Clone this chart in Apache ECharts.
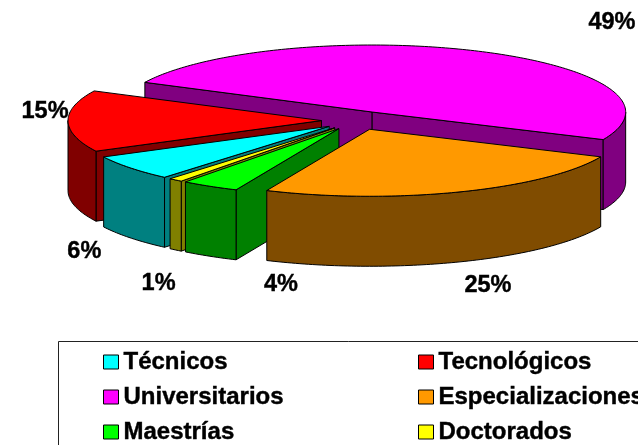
<!DOCTYPE html>
<html><head><meta charset="utf-8">
<style>html,body{margin:0;padding:0;background:#fff}#c{width:638px;height:445px}</style>
<script src="https://cdn.jsdelivr.net/npm/echarts@6/dist/echarts.min.js"></script>
</head><body><div id="c"></div>
<script>
const categories = ['Técnicos','Tecnológicos','Universitarios','Especializaciones','Maestrías','Doctorados'];
const percents   = [6.2,14.85,49.45,24.9,3.7,0.9];
const topColors  = ['#00FFFF','#FF0000','#FF00FF','#FF9900','#00FF00','#FFFF00'];
const wallColors = ['#008080','#800000','#800080','#804C00','#008000','#808000'];
const drawOrder  = [2,1,0,5,4,3];
const legendLeft  = ['Técnicos','Universitarios','Maestrías'];
const legendRight = ['Tecnológicos','Especializaciones','Doctorados'];
// layout of the projected pie
const CX=357, CY=120.5, RX=253.5, RY=67, DEPTH=70, EXPLODE=0.14, START=130.5;
const labelNudge = [[-46,84],[-23,-10],[131.5,-29],[28,94],[71,98],[-17,104]];
const FONT='"Liberation Sans", Arial, sans-serif';

const total = percents.reduce((a,b)=>a+b,0);
function span(i){
  let a=START; for(let k=0;k<i;k++) a+=percents[k]/total*360;
  return [a,a+percents[i]/total*360];
}
const rad=d=>d*Math.PI/180;
function renderSlice(i){
  return function(params,api){
    const v=api.value(0);
    const [t1,t2]=span(i), mid=(t1+t2)/2;
    const ax=CX+RX*EXPLODE*Math.cos(rad(mid)), ay=CY+RY*EXPLODE*Math.sin(rad(mid));
    const rim=t=>[ax+RX*Math.cos(rad(t)), ay+RY*Math.sin(rad(t))];
    const arc=(a,b)=>{const n=Math.max(2,Math.ceil(Math.abs(b-a)));const p=[];for(let k=0;k<=n;k++)p.push(rim(a+(b-a)*k/n));return p;};
    const down=p=>[p[0],p[1]+DEPTH];
    const style=fill=>({fill,stroke:'#000',lineWidth:1,lineJoin:'round'});
    const kids=[];
    const poly=(points,fill)=>kids.push({type:'polygon',shape:{points},style:style(fill)});
    const wall=wallColors[i];
    if(Math.cos(rad(t1))<0){const r=rim(t1);poly([[ax,ay],r,down(r),[ax,ay+DEPTH]],wall);}
    if(Math.cos(rad(t2))>0){const r=rim(t2);poly([[ax,ay],r,down(r),[ax,ay+DEPTH]],wall);}
    [[0,180],[360,540]].forEach(([lo,hi])=>{
      const a=Math.max(t1,lo), b=Math.min(t2,hi);
      if(b>a){const p=arc(a,b);poly(p.concat(p.slice().reverse().map(down)),wall);}
    });
    poly([[ax,ay]].concat(arc(t1,t2)),topColors[i]);
    const m=[CX+RX*(1+EXPLODE)*Math.cos(rad(mid)), CY+RY*(1+EXPLODE)*Math.sin(rad(mid))];
    kids.push({type:'text',z2:100,style:{text:Math.round(v)+'%',x:m[0]+labelNudge[i][0],y:m[1]+labelNudge[i][1],
      align:'center',verticalAlign:'middle',font:'bold 23.5px '+FONT,fill:'#000',stroke:'#000',lineWidth:0.4}});
    return {type:'group',children:kids};
  };
}
const series=drawOrder.map(i=>({
  type:'custom',name:categories[i],coordinateSystem:'none',silent:true,
  itemStyle:{color:topColors[i],borderColor:'#000',borderWidth:1},
  data:[[percents[i]]],renderItem:renderSlice(i)
}));
const legendBase={orient:'vertical',top:349,icon:'rect',itemWidth:15,itemHeight:14,itemGap:9,padding:0,selectedMode:false,
  itemStyle:{borderColor:'#000',borderWidth:1},
  textStyle:{fontFamily:FONT,fontWeight:'bold',fontSize:24,lineHeight:26,color:'#000',padding:[0,0,0,0],textBorderColor:'#000',textBorderWidth:0.4}};
const chart=echarts.init(document.getElementById('c'),null,{renderer:'canvas'});
chart.setOption({
  animation:false,backgroundColor:'#fff',
  legend:[Object.assign({},legendBase,{left:103,data:legendLeft}),Object.assign({},legendBase,{left:418,data:legendRight})],
  graphic:[{type:'rect',z:-1,silent:true,shape:{x:58.5,y:341.5,width:800,height:300},style:{fill:'#fff',stroke:'#222',lineWidth:1}}],
  series
});
</script></body></html>
